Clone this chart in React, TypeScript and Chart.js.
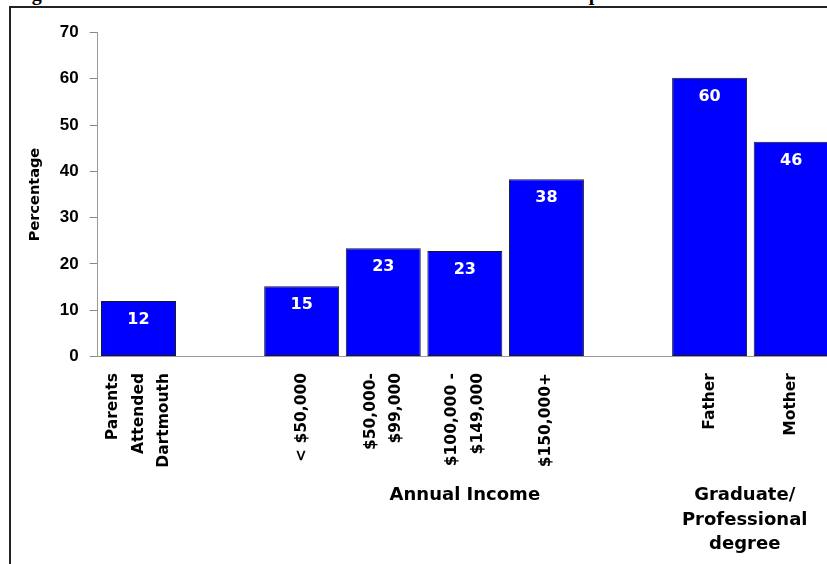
import React, { useEffect, useRef } from "react";
import { Chart, registerables } from "chart.js";

Chart.register(...registerables);

// ---- data ----
const categories: string[][] = [
  ["Parents", "Attended", "Dartmouth"],
  [],
  ["< $50,000"],
  ["$50,000-", "$99,000"],
  ["$100,000 -", "$149,000"],
  ["$150,000+"],
  [],
  ["Father"],
  ["Mother"],
];
const values: (number | null)[] = [12.0, null, 15.2, 23.4, 22.8, 38.3, null, 60.2, 46.4];
const valueLabels: (string | null)[] = ["12", null, "15", "23", "23", "38", null, "60", "46"];
const yMin = 0;
const yMax = 70;
const yStep = 10;
const yTitle = "Percentage";
const groupTitles: string[][] = [["Annual Income"], ["Graduate/", "Professional", "degree"]];
const groupCenters: number[] = [4, 7.43];
const figureTitle = "Figure 4. Students at Dartmouth: Alumni Parents and Income Compared";

const W = 840;
const H = 600;

export default function App() {
  const ref = useRef<HTMLCanvasElement | null>(null);

  useEffect(() => {
    const canvas = ref.current;
    if (!canvas) return;

    const labelsPlugin = {
      id: "customLabels",
      afterDraw(chart: any) {
        const ctx = chart.ctx as CanvasRenderingContext2D;
        const xs = chart.scales.x;
        ctx.save();
        // category labels (rotated)
        ctx.fillStyle = "#000";
        ctx.font = 'bold 15.5px "DejaVu Sans"';
        ctx.textAlign = "right";
        ctx.textBaseline = "middle";
        const top = xs.top + 16.5;
        categories.forEach((lines, i) => {
          const cx = xs.getPixelForValue(i);
          lines.forEach((line, j) => {
            const dx = (j - (lines.length - 1) / 2) * 25.5;
            ctx.save();
            ctx.translate(cx + dx, top);
            ctx.rotate(-Math.PI / 2);
            ctx.fillText(line, 0, 0);
            ctx.restore();
          });
        });
        // group titles
        ctx.font = 'bold 18px "DejaVu Sans"';
        ctx.textAlign = "center";
        groupTitles.forEach((lines, g) => {
          const cx = xs.getPixelForValue(groupCenters[g]);
          lines.forEach((line, j) => {
            ctx.fillText(line, cx, xs.top + 139 + j * 24.5);
          });
        });
        // value labels inside bars
        ctx.fillStyle = "#fff";
        ctx.font = 'bold 16px "DejaVu Sans"';
        const meta = chart.getDatasetMeta(0);
        meta.data.forEach((el: any, i: number) => {
          const lbl = valueLabels[i];
          if (lbl == null || values[i] == null) return;
          ctx.fillText(lbl, el.x, el.y + 19);
        });
        ctx.restore();
      },
    };

    const chart = new Chart(canvas, {
      type: "bar",
      data: {
        labels: categories.map((c) => c.join(" ")),
        datasets: [
          {
            data: values,
            backgroundColor: "#0000FF",
            borderColor: "#1a1a1a",
            borderWidth: 1,
            borderSkipped: false,
            barPercentage: 0.919,
            categoryPercentage: 1,
          },
        ],
      },
      options: {
        responsive: false,
        animation: false,
        devicePixelRatio: 1,
        layout: { padding: { top: 32.5, right: 8, bottom: 0, left: 0 } },
        plugins: {
          legend: { display: false },
          tooltip: { enabled: false },
          title: { display: false },
        },
        scales: {
          x: {
            ticks: { display: false },
            grid: { display: false },
            border: { display: true, color: "#999999", width: 1 },
            afterFit(scale: any) {
              scale.height = H - 356.5;
            },
          },
          y: {
            min: yMin,
            max: yMax,
            ticks: {
              stepSize: yStep,
              color: "#000",
              padding: 11,
              font: { family: '"Liberation Sans", Arial', size: 17, weight: "bold" },
            },
            grid: {
              display: true,
              drawOnChartArea: false,
              drawTicks: true,
              tickLength: 8,
              color: "#888888",
              lineWidth: 1,
            },
            border: { display: true, color: "#999999", width: 1 },
            title: {
              display: true,
              text: yTitle,
              color: "#000",
              padding: { top: 26.3, bottom: 0 },
              font: { family: '"DejaVu Sans"', size: 14.5, weight: "bold", lineHeight: 1.2 },
            },
            afterFit(scale: any) {
              scale.width = 97.7;
            },
          },
        },
      },
      plugins: [labelsPlugin],
    });

    return () => {
      chart.destroy();
    };
  }, []);

  return (
    <div
      style={{
        position: "fixed",
        left: 0,
        top: 0,
        width: 827,
        height: 564,
        overflow: "hidden",
        background: "#fff",
      }}
    >
      <div
        style={{
          position: "absolute",
          left: 14,
          top: -17,
          fontFamily: '"Liberation Serif", "Times New Roman", serif',
          fontWeight: "bold",
          fontSize: 20,
          lineHeight: "20px",
          whiteSpace: "nowrap",
          color: "#000",
        }}
      >
        {figureTitle}
      </div>
      <div
        style={{
          position: "absolute",
          left: 9,
          top: 6,
          width: 1000,
          height: 1000,
          borderLeft: "2px solid #222",
          borderTop: "2px solid #222",
        }}
      />
      <canvas
        ref={ref}
        width={W}
        height={H}
        style={{ position: "absolute", left: 0, top: 0, width: W, height: H }}
      />
    </div>
  );
}
